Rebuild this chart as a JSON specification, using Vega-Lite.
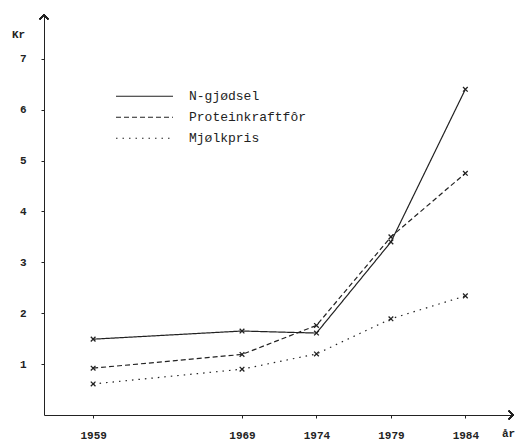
{
  "$schema": "https://vega.github.io/schema/vega-lite/v6.json",
  "width": 469,
  "height": 400,
  "autosize": {"type": "none"},
  "padding": {"left": 44, "top": 15, "right": 6, "bottom": 26},
  "background": "white",
  "config": {
    "view": {"stroke": null},
    "font": "Liberation Mono",
    "axis": {"labelFont": "Liberation Mono", "titleFont": "Liberation Mono", "labelColor": "#222", "titleColor": "#222", "domainColor": "#222", "tickColor": "#222", "grid": false}
  },
  "data": {
    "values": [
      {"year": 1959, "value": 1.49, "series": "N-gjødsel"},
      {"year": 1969, "value": 1.65, "series": "N-gjødsel"},
      {"year": 1974, "value": 1.61, "series": "N-gjødsel"},
      {"year": 1979, "value": 3.4, "series": "N-gjødsel"},
      {"year": 1984, "value": 6.4, "series": "N-gjødsel"},
      {"year": 1959, "value": 0.92, "series": "Proteinkraftfôr"},
      {"year": 1969, "value": 1.19, "series": "Proteinkraftfôr"},
      {"year": 1974, "value": 1.76, "series": "Proteinkraftfôr"},
      {"year": 1979, "value": 3.5, "series": "Proteinkraftfôr"},
      {"year": 1984, "value": 4.75, "series": "Proteinkraftfôr"},
      {"year": 1959, "value": 0.61, "series": "Mjølkpris"},
      {"year": 1969, "value": 0.9, "series": "Mjølkpris"},
      {"year": 1974, "value": 1.2, "series": "Mjølkpris"},
      {"year": 1979, "value": 1.89, "series": "Mjølkpris"},
      {"year": 1984, "value": 2.34, "series": "Mjølkpris"}
    ]
  },
  "layer": [
    {
      "mark": {"type": "line", "color": "#222", "strokeWidth": 1.2},
      "encoding": {
        "x": {"field": "year", "type": "quantitative",
          "scale": {"domain": [1955.7, 1987.2], "nice": false, "zero": false},
          "axis": {"values": [1959, 1969, 1974, 1979, 1984], "format": "d", "tickSize": 3, "labelPadding": 11, "labelFontSize": 11, "labelFontWeight": "bold",
            "title": "år", "titleFontSize": 11, "titleFontWeight": "bold", "titleX": 464, "titleY": 18, "titleAlign": "center", "titleBaseline": "middle"}},
        "y": {"field": "value", "type": "quantitative",
          "scale": {"domain": [0, 7.86], "nice": false},
          "axis": {"values": [1, 2, 3, 4, 5, 6, 7], "tickSize": 3, "labelPadding": 15, "labelFontSize": 11, "labelFontWeight": "bold",
            "title": "Kr", "titleAngle": 0, "titleFontSize": 11, "titleFontWeight": "bold", "titleX": -26, "titleY": 19, "titleAlign": "center", "titleBaseline": "middle"}},
        "strokeDash": {"field": "series", "type": "nominal",
          "scale": {"domain": ["N-gjødsel", "Proteinkraftfôr", "Mjølkpris"], "range": [[1, 0], [5, 3], [1.5, 5]]},
          "legend": {"title": null, "orient": "none", "legendX": 71, "legendY": 71, "symbolType": "stroke", "symbolSize": 3249, "symbolStrokeWidth": 1.2, "symbolStrokeColor": "#222", "clipHeight": 20.5, "labelFontSize": 13, "labelFont": "Liberation Mono", "labelColor": "#222", "labelOffset": 15, "padding": 0, "rowPadding": 0}}
      }
    },
    {
      "mark": {"type": "point", "shape": "M-1,-1L1,1M-1,1L1,-1", "size": 22, "color": "#222", "strokeWidth": 1.3, "filled": false, "opacity": 1},
      "encoding": {
        "x": {"field": "year", "type": "quantitative"},
        "y": {"field": "value", "type": "quantitative"}
      }
    },
    {
      "mark": {"type": "point", "shape": "M-1,1L0,0L1,1", "size": 70, "color": "#222", "strokeWidth": 1.3, "filled": false, "opacity": 1},
      "encoding": {"x": {"datum": 1955.7, "type": "quantitative"}, "y": {"datum": 7.86, "type": "quantitative"}}
    },
    {
      "mark": {"type": "point", "shape": "M-1,-1L0,0L-1,1", "size": 70, "color": "#222", "strokeWidth": 1.3, "filled": false, "opacity": 1},
      "encoding": {"x": {"datum": 1987.2, "type": "quantitative"}, "y": {"datum": 0, "type": "quantitative"}}
    }
  ]
}
